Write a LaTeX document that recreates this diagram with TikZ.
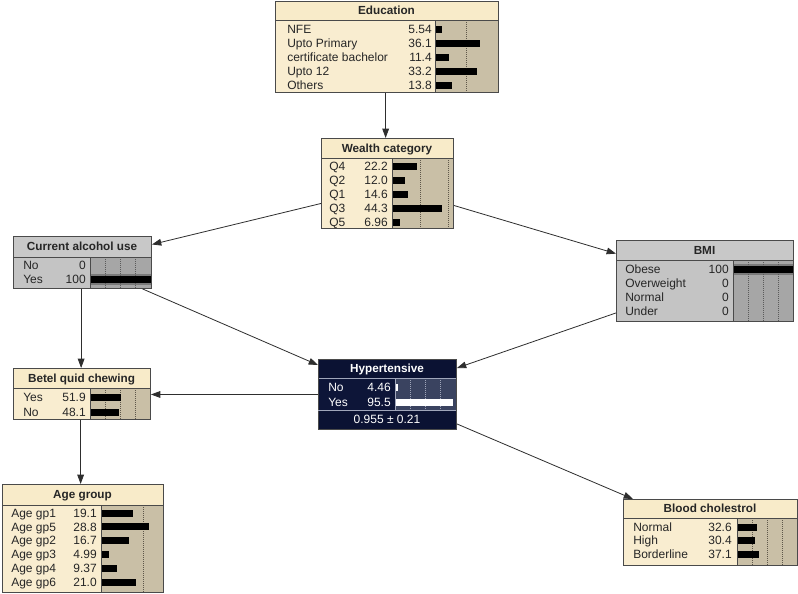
\documentclass[tikz,border=0pt]{standalone}
\usepackage{fontspec}
\setmainfont{Liberation Sans}
\usetikzlibrary{arrows.meta}
\definecolor{creamH}{HTML}{F8EBC9}
\definecolor{creamB}{HTML}{F9EDD0}
\definecolor{tanB}{HTML}{C9BFA6}
\definecolor{tanG}{HTML}{5E574A}
\definecolor{greyH}{HTML}{C8C8C8}
\definecolor{greyB}{HTML}{C4C4C4}
\definecolor{greyBar}{HTML}{A6A6A6}
\definecolor{greyBand}{HTML}{7A7A7A}
\definecolor{greyG}{HTML}{5A5A5A}
\definecolor{navyH}{HTML}{0B1233}
\definecolor{navyB}{HTML}{0D1538}
\definecolor{navyBar}{HTML}{3A4360}
\definecolor{navyG}{HTML}{A0A6BA}
\definecolor{frameC}{HTML}{4A4A4A}
\definecolor{arrowC}{HTML}{2E2E2E}

\tikzset{
  lbl/.style={anchor=base west, inner sep=0pt, font=\fontsize{9}{10}\selectfont},
  val/.style={anchor=base east, inner sep=0pt, font=\fontsize{9}{10}\selectfont},
  ttl/.style={anchor=base, inner sep=0pt, font=\fontsize{8.8}{10}\selectfont\bfseries},
  frame/.style={draw=frameC, line width=0.7pt, inner sep=0pt, anchor=north west},
  conn/.style={draw=arrowC, line width=0.6pt, -{Triangle[length=7pt,width=5pt]}},
  cream hdr/.style={fill=creamH}, cream body/.style={fill=creamB}, cream bar/.style={fill=tanB},
  cream band/.style={fill=tanB}, cream fg/.style={fill=black},
  cream grid/.style={draw=tanG, densely dotted, line width=0.5pt},
  cream text/.style={text=black!85}, cream sep/.style={draw=frameC, line width=0.6pt},
  grey hdr/.style={fill=greyH}, grey body/.style={fill=greyB}, grey bar/.style={fill=greyBar},
  grey band/.style={fill=greyBand}, grey fg/.style={fill=black},
  grey grid/.style={draw=greyG, densely dotted, line width=0.5pt},
  grey text/.style={text=black!85}, grey sep/.style={draw=frameC, line width=0.6pt},
  navy hdr/.style={fill=navyH}, navy body/.style={fill=navyB}, navy bar/.style={fill=navyBar},
  navy band/.style={fill=navyBar}, navy fg/.style={fill=white},
  navy grid/.style={draw=navyG, densely dotted, line width=0.5pt},
  navy text/.style={text=white}, navy sep/.style={draw=navyG, line width=0.6pt},
}

% #1 name, #2 title, #3 rows label/value, #4 grid percentages, #5 scheme
\newcommand\bnbox[5]{%
  \fill[#5 hdr] (\bxL,\bxT) rectangle (\bxR,\bxHB);
  \fill[#5 body] (\bxL,\bxHB) rectangle (\bxBX,\bxB);
  \fill[#5 bar] (\bxBX,\bxHB) rectangle (\bxR,\bxB);
  \foreach \rowlab/\rowval [count=\rowi] in {#3}{
    \pgfmathsetmacro\rowy{\bxRY+(\rowi-1)*\bxRS}
    \ifdim\rowval pt=100pt \fill[#5 band] (\bxBX,\rowy-5.5) rectangle (\bxR,\rowy+5.5); \fi
  }
  \foreach \gp in {#4}{\draw[#5 grid] ({\bxBX+\gp*\bxSC},\bxHB) -- ({\bxBX+\gp*\bxSC},\bxB);}
  \foreach \rowlab/\rowval [count=\rowi] in {#3}{
    \pgfmathsetmacro\rowy{\bxRY+(\rowi-1)*\bxRS}
    \pgfmathsetmacro\roww{\rowval*\bxSC}
    \node[lbl,#5 text] at (\bxLX,\rowy+4.3) {\rowlab};
    \node[val,#5 text] at (\bxVX,\rowy+4.3) {\rowval};
    \ifdim\roww pt>0pt \fill[#5 fg] (\bxBX,\rowy-3.5) rectangle ++(\roww,7); \fi
  }
  \draw[#5 sep] (\bxL,\bxHB) -- (\bxR,\bxHB) (\bxBX,\bxHB) -- (\bxBX,\bxB);
  \node[ttl,#5 text] at ({(\bxL+\bxR)/2},{(\bxT+\bxHB)/2+4.3}) {#2};
  \node[frame, minimum width={(\bxR-\bxL)*0.75pt}, minimum height={(\bxFB-\bxT)*0.75pt}] (#1) at (\bxL,\bxT) {};
}

\begin{document}
\begin{tikzpicture}[x=0.75pt, y=-0.75pt]
\useasboundingbox (0,0) rectangle (798,593);
\fill[white] (0,0) rectangle (798,593);

% Education
\def\bxL{275}\def\bxT{1}\def\bxR{498}\def\bxHB{20}\def\bxB{92}\def\bxFB{92}
\def\bxBX{435}\def\bxSC{1.25}\def\bxRY{29}\def\bxRS{14}\def\bxLX{287}\def\bxVX{432}
\bnbox{edu}{Education}{NFE/5.54, Upto Primary/36.1, certificate bachelor/11.4, Upto 12/33.2, Others/13.8}{25}{cream}

% Wealth category
\def\bxL{321}\def\bxT{138}\def\bxR{453}\def\bxHB{158}\def\bxB{228}\def\bxFB{228}
\def\bxBX{392}\def\bxSC{1.12}\def\bxRY{166}\def\bxRS{14}\def\bxLX{329}\def\bxVX{388}
\bnbox{wealth}{Wealth category}{Q4/22.2, Q2/12.0, Q1/14.6, Q3/44.3, Q5/6.96}{25,50}{cream}

% Current alcohol use
\def\bxL{13}\def\bxT{236}\def\bxR{151}\def\bxHB{257}\def\bxB{288}\def\bxFB{288}
\def\bxBX{90}\def\bxSC{0.61}\def\bxRY{265}\def\bxRS{14}\def\bxLX{23}\def\bxVX{86}
\bnbox{alc}{Current alcohol use}{No/0, Yes/100}{25,50,75}{grey}

% BMI
\def\bxL{616}\def\bxT{240}\def\bxR{793}\def\bxHB{260}\def\bxB{321}\def\bxFB{321}
\def\bxBX{733}\def\bxSC{0.6}\def\bxRY{269}\def\bxRS{14}\def\bxLX{625}\def\bxVX{729}
\bnbox{bmi}{BMI}{Obese/100, Overweight/0, Normal/0, Under/0}{25,50,75}{grey}

% Hypertensive
\fill[navyH] (318,410) rectangle (456,429);
\node[anchor=base, inner sep=0pt, text=white, font=\fontsize{9}{10}\selectfont] (hyperfoot) at (387,423.8) {0.955 ± 0.21};
\def\bxL{318}\def\bxT{359}\def\bxR{456}\def\bxHB{378}\def\bxB{410}\def\bxFB{429}
\def\bxBX{395}\def\bxSC{0.61}\def\bxRY{387}\def\bxRS{15}\def\bxLX{328}\def\bxVX{391}
\bnbox{hyper}{Hypertensive}{No/4.46, Yes/95.5}{25,50,75}{navy}
\draw[navy sep] (318,410) -- (456,410);

% Betel quid chewing
\def\bxL{13}\def\bxT{368}\def\bxR{150}\def\bxHB{388}\def\bxB{419}\def\bxFB{419}
\def\bxBX{90}\def\bxSC{0.6}\def\bxRY{397}\def\bxRS{15}\def\bxLX{23}\def\bxVX{86}
\bnbox{betel}{Betel quid chewing}{Yes/51.9, No/48.1}{25,50,75}{cream}

% Age group
\def\bxL{2}\def\bxT{484}\def\bxR{163}\def\bxHB{505}\def\bxB{592}\def\bxFB{592}
\def\bxBX{101}\def\bxSC{1.68}\def\bxRY{513}\def\bxRS{13.8}\def\bxLX{11}\def\bxVX{97}
\bnbox{age}{Age group}{Age gp1/19.1, Age gp5/28.8, Age gp2/16.7, Age gp3/4.99, Age gp4/9.37, Age gp6/21.0}{25}{cream}

% Blood cholestrol
\def\bxL{623}\def\bxT{499}\def\bxR{797}\def\bxHB{518}\def\bxB{565}\def\bxFB{565}
\def\bxBX{737}\def\bxSC{0.6}\def\bxRY{527}\def\bxRS{13.5}\def\bxLX{633}\def\bxVX{732}
\bnbox{blood}{Blood cholestrol}{Normal/32.6, High/30.4, Borderline/37.1}{25,50,75}{cream}

% connectors
\draw[conn] ([xshift=-1pt]edu.south) -- ([xshift=-1pt]edu.south |- wealth.north);
\draw[conn] ([yshift=-15pt]wealth.west) -- ([yshift=13.5pt]alc.east);
\draw[conn] ([yshift=-16.5pt]wealth.east) -- ([yshift=20.5pt]bmi.west);
\draw[conn] ([xshift=-1pt]alc.south) -- ([xshift=-1pt]alc.south |- betel.north);
\draw[conn] ([xshift=-7pt]alc.south east) -- ([yshift=-4.5pt]hyper.north west);
\draw[conn] ([yshift=6.75pt]bmi.south west) -- ([yshift=-6.75pt]hyper.north east);
\draw[conn] (hyper.west) -- (hyper.west -| betel.east);
\draw[conn] ([xshift=-1pt]betel.south) -- ([xshift=-1pt]betel.south |- age.north);
\draw[conn] ([yshift=4.5pt]hyper.south east) -- ([xshift=7.5pt]blood.north west);
\end{tikzpicture}
\end{document}
